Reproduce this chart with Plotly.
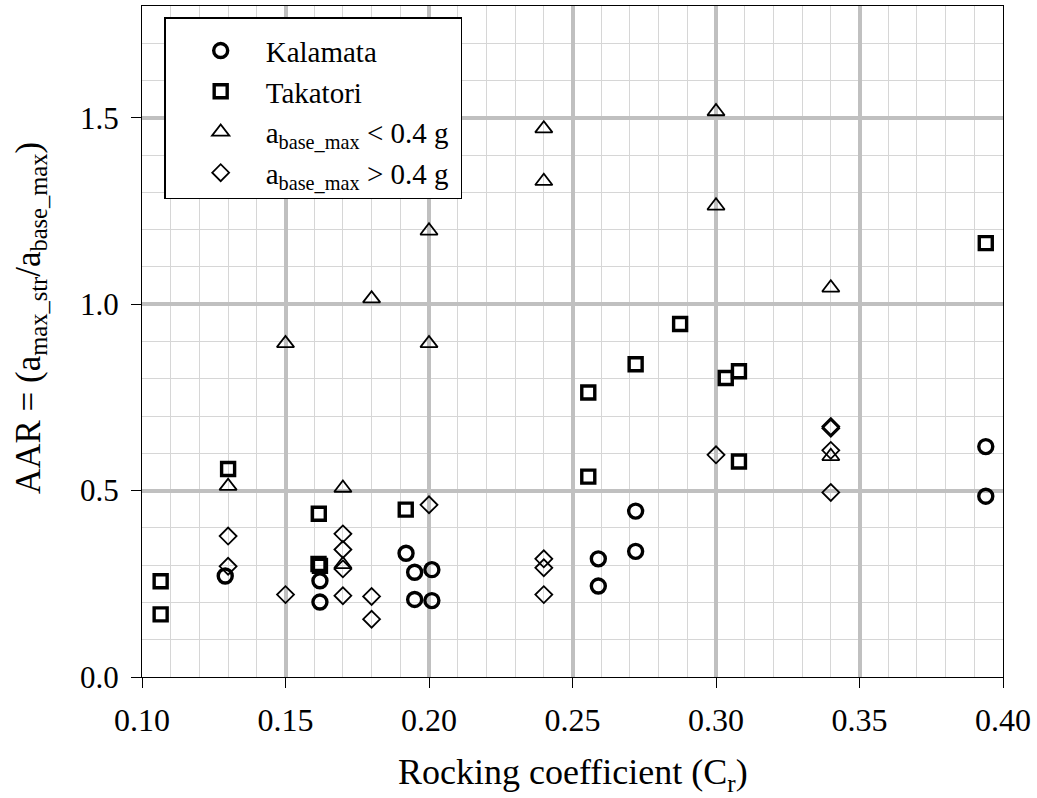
import plotly.graph_objects as go

# Rocking coefficient (C_r) and amplification ratio AAR for each group
kal_cr = [0.129, 0.162, 0.162, 0.192, 0.195, 0.201, 0.195, 0.201, 0.259, 0.259, 0.272, 0.272, 0.394, 0.394]
kal_aar = [0.271, 0.258, 0.201, 0.332, 0.281, 0.288, 0.208, 0.205, 0.317, 0.244, 0.445, 0.337, 0.618, 0.485]

tak_cr = [0.1065, 0.1065, 0.130, 0.1616, 0.1615, 0.162, 0.1919, 0.2555, 0.2555, 0.272, 0.2875, 0.3034, 0.308, 0.308, 0.394]
tak_aar = [0.257, 0.168, 0.558, 0.438, 0.303, 0.298, 0.449, 0.763, 0.5375, 0.839, 0.947, 0.802, 0.820, 0.578, 1.164]

low_cr = [0.13, 0.15, 0.17, 0.17, 0.18, 0.20, 0.20, 0.24, 0.24, 0.30, 0.30, 0.34, 0.34]
low_aar = [0.512, 0.895, 0.507, 0.302, 1.015, 1.197, 0.895, 1.471, 1.330, 1.517, 1.264, 1.044, 0.592]

high_cr = [0.13, 0.13, 0.15, 0.17, 0.17, 0.17, 0.17, 0.18, 0.18, 0.20, 0.24, 0.24, 0.24, 0.30, 0.34, 0.34, 0.34, 0.34]
high_aar = [0.378, 0.297, 0.221, 0.384, 0.342, 0.290, 0.218, 0.216, 0.155, 0.462, 0.317, 0.293, 0.221, 0.596, 0.667, 0.672, 0.608, 0.495]

x_ticks = [0.10, 0.15, 0.20, 0.25, 0.30, 0.35, 0.40]
y_ticks = [0.0, 0.5, 1.0, 1.5]

SERIF = "Liberation Serif"
PAD = "\u00a0"

fig = go.Figure()
fig.add_trace(go.Scatter(
    x=kal_cr, y=kal_aar, mode="markers", name="Kalamata",
    marker=dict(symbol="circle-open", size=14, color="black", line=dict(width=3.4, color="black")),
))
fig.add_trace(go.Scatter(
    x=tak_cr, y=tak_aar, mode="markers", name="Takatori",
    marker=dict(symbol="square-open", size=13, color="black", line=dict(width=3.4, color="black")),
))
fig.add_trace(go.Scatter(
    x=low_cr, y=low_aar, mode="markers", name="a<sub>base_max</sub> &lt; 0.4 g" + PAD,
    marker=dict(symbol="triangle-up-open", size=15, color="black", line=dict(width=1.8, color="black")),
))
fig.add_trace(go.Scatter(
    x=high_cr, y=high_aar, mode="markers", name="a<sub>base_max</sub> &gt; 0.4 g" + PAD,
    marker=dict(symbol="diamond-open", size=13, color="black", line=dict(width=1.8, color="black")),
))

fig.update_layout(
    width=1037, height=798, autosize=False,
    margin=dict(l=142, r=34, t=6, b=121),
    paper_bgcolor="white", plot_bgcolor="white",
    font=dict(family=SERIF, color="black"),
    showlegend=True,
    legend=dict(
        x=0.026, y=0.983, xanchor="left", yanchor="top",
        bgcolor="white", bordercolor="black", borderwidth=1.3,
        font=dict(family=SERIF, size=29, color="black"),
        itemwidth=80, indentation=10,
        title=dict(text="&nbsp;", font=dict(size=5)),
    ),
)

fig.update_xaxes(
    range=[0.10, 0.40], tickvals=x_ticks, tickformat=".2f",
    showgrid=True, gridcolor="#c0c0c0", gridwidth=4,
    minor=dict(dtick=0.01, tick0=0.10, showgrid=True, gridcolor="#d6d6d6", gridwidth=1.3),
    showline=True, linecolor="black", linewidth=1.3, mirror=True,
    ticks="outside", ticklen=10, tickcolor="black", tickwidth=1.3,
    tickfont=dict(family=SERIF, size=32, color="black"),
    ticklabelstandoff=4,
    zeroline=False,
)
fig.update_yaxes(
    range=[0.0, 1.8], tickvals=y_ticks, tickformat=".1f",
    showgrid=True, gridcolor="#c0c0c0", gridwidth=4,
    minor=dict(dtick=0.1, tick0=0.0, showgrid=True, gridcolor="#d6d6d6", gridwidth=1.3),
    showline=True, linecolor="black", linewidth=1.3, mirror=True,
    ticks="outside", ticklen=10, tickcolor="black", tickwidth=1.3,
    tickfont=dict(family=SERIF, size=31, color="black"),
    ticklabelstandoff=6,
    zeroline=False,
)

fig.add_annotation(
    text="Rocking coefficient (C<sub>r</sub>)", xref="paper", yref="paper",
    x=0.5, y=-0.145, xanchor="center", yanchor="middle", showarrow=False,
    font=dict(family=SERIF, size=36, color="black"),
)
fig.add_annotation(
    text="AAR = (a<sub>max_str</sub>/a<sub>base_max</sub>)", xref="paper", yref="paper",
    x=-0.13, y=0.535, xanchor="center", yanchor="middle", textangle=-90, showarrow=False,
    font=dict(family=SERIF, size=35, color="black"),
)

fig.write_html("out.html")
